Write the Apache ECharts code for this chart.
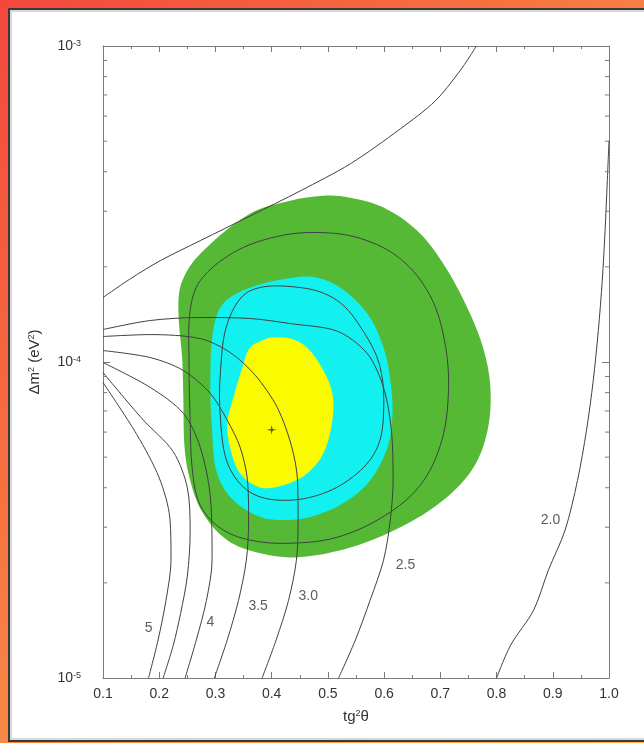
<!DOCTYPE html>
<html><head><meta charset="utf-8">
<script src="https://cdn.jsdelivr.net/npm/echarts@6/dist/echarts.min.js"></script>
<style>
html,body{margin:0;padding:0;width:644px;height:743px;overflow:hidden;
 background:linear-gradient(135deg,#f3473d 0%,#f6703f 35%,#f8974b 65%,#fbb157 100%);}
#panel{position:absolute;left:8px;top:8px;width:640px;height:730px;background:#fff;border:2px solid #3a3a3a;box-shadow:inset 0 0 0 2px #d8d8d8;}
#chart{position:absolute;left:0;top:0;width:644px;height:743px;}
</style></head>
<body><div id="panel"></div><div id="chart"></div>
<script>
// Allowed regions in the (tg²θ, Δm²) plane
const greenRegion = [[0.492,3.36e-4],[0.540,3.31e-4],[0.599,3.08e-4],[0.659,2.60e-4],[0.705,2.05e-4],[0.748,1.486e-4],[0.776,1.111e-4],[0.789,8.31e-5],[0.784,6.08e-5],[0.759,4.64e-5],[0.705,3.65e-5],[0.629,3.00e-5],[0.540,2.59e-5],[0.446,2.41e-5],[0.380,2.48e-5],[0.321,2.73e-5],[0.278,3.32e-5],[0.255,4.22e-5],[0.245,5.37e-5],[0.243,7.56e-5],[0.241,1.011e-4],[0.234,1.486e-4],[0.241,1.809e-4],[0.273,2.20e-4],[0.362,2.95e-4],[0.433,3.24e-4]];
const cyanRegion = [[0.438,1.849e-4],[0.481,1.849e-4],[0.522,1.72e-4],[0.570,1.423e-4],[0.599,1.111e-4],[0.611,8.74e-5],[0.615,6.88e-5],[0.606,5.37e-5],[0.575,4.22e-5],[0.527,3.57e-5],[0.469,3.23e-5],[0.421,3.16e-5],[0.380,3.23e-5],[0.332,3.65e-5],[0.303,4.44e-5],[0.294,6.08e-5],[0.291,8.74e-5],[0.296,1.258e-4],[0.314,1.531e-4],[0.362,1.72e-4]];
const yellowRegion = [[0.403,1.195e-4],[0.433,1.186e-4],[0.463,1.111e-4],[0.492,9.40e-5],[0.508,7.95e-5],[0.508,6.54e-5],[0.492,5.14e-5],[0.463,4.44e-5],[0.421,4.07e-5],[0.380,4.01e-5],[0.344,4.44e-5],[0.326,5.37e-5],[0.321,6.39e-5],[0.332,7.72e-5],[0.348,9.61e-5],[0.362,1.111e-4],[0.392,1.186e-4]];
const bestFit = [[0.40, 6.1e-5]];

// Closed contours drawn over the filled regions
const outerLoop = [[0.255,1.454e-4],[0.273,1.809e-4],[0.332,2.22e-4],[0.407,2.49e-4],[0.481,2.57e-4],[0.558,2.46e-4],[0.629,2.12e-4],[0.682,1.62e-4],[0.709,1.128e-4],[0.714,7.72e-5],[0.700,5.45e-5],[0.664,4.07e-5],[0.602,3.27e-5],[0.517,2.79e-5],[0.433,2.67e-5],[0.362,2.73e-5],[0.309,2.98e-5],[0.273,3.52e-5],[0.259,4.54e-5],[0.255,6.54e-5],[0.253,1.011e-4]];
const innerLoop = [[0.362,1.682e-4],[0.451,1.72e-4],[0.517,1.564e-4],[0.563,1.251e-4],[0.593,9.61e-5],[0.599,6.88e-5],[0.588,5.37e-5],[0.552,4.44e-5],[0.492,3.84e-5],[0.421,3.65e-5],[0.362,3.87e-5],[0.323,4.71e-5],[0.309,6.54e-5],[0.309,9.40e-5],[0.323,1.353e-4]];

// Iso-contours
const curve50 = [[0.100,8.61e-5],[0.160,5.9e-5],[0.200,4.3e-5],[0.219,3.2e-5],[0.221,2.36e-5],[0.212,1.76e-5],[0.198,1.32e-5],[0.181,1.0e-5]];
const curve45 = [[0.100,9.26e-5],[0.170,6.6e-5],[0.225,5.2e-5],[0.250,4.0e-5],[0.255,2.9e-5],[0.250,2.1e-5],[0.238,1.6e-5],[0.225,1.27e-5],[0.207,1.0e-5]];
const curve40 = [[0.100,9.96e-5],[0.184,8.31e-5],[0.243,6.88e-5],[0.273,5.37e-5],[0.291,3.73e-5],[0.294,2.36e-5],[0.284,1.76e-5],[0.266,1.32e-5],[0.246,1.0e-5]];
const curve35 = [[0.100,1.087e-4],[0.184,1.033e-4],[0.243,9.40e-5],[0.291,7.95e-5],[0.321,6.54e-5],[0.344,5.37e-5],[0.357,4.22e-5],[0.359,3.16e-5],[0.355,2.36e-5],[0.341,1.76e-5],[0.321,1.32e-5],[0.298,1.0e-5]];
const curve30 = [[0.100,1.204e-4],[0.184,1.221e-4],[0.273,1.186e-4],[0.326,1.072e-4],[0.371,9.07e-5],[0.410,7.18e-5],[0.435,5.45e-5],[0.446,4.22e-5],[0.447,3.16e-5],[0.444,2.36e-5],[0.430,1.76e-5],[0.408,1.32e-5],[0.383,1.0e-5]];
const curve25 = [[0.100,1.267e-4],[0.184,1.353e-4],[0.273,1.383e-4],[0.362,1.373e-4],[0.433,1.323e-4],[0.517,1.251e-4],[0.570,1.064e-4],[0.599,8.31e-5],[0.613,6.08e-5],[0.616,4.22e-5],[0.611,3.16e-5],[0.599,2.36e-5],[0.575,1.76e-5],[0.549,1.32e-5],[0.519,1.0e-5]];
const curve20 = [[0.800,1.0e-5],[0.825,1.27e-5],[0.866,1.64e-5],[0.892,2.19e-5],[0.922,2.94e-5],[0.944,4.22e-5],[0.960,6.08e-5],[0.972,8.74e-5],[0.981,1.258e-4],[0.988,1.809e-4],[0.993,2.60e-4],[0.997,3.75e-4],[1.000,5.01e-4]];
const curveUpper = [[0.100,1.60e-4],[0.149,1.835e-4],[0.202,2.093e-4],[0.273,2.421e-4],[0.362,2.90e-4],[0.451,3.48e-4],[0.540,4.24e-4],[0.629,5.47e-4],[0.691,6.70e-4],[0.732,8.21e-4],[0.753,9.30e-4],[0.764,1.0e-3]];

const curveLabelText = ['5', '4', '3.5', '3.0', '2.5', '2.0'];
const curveLabelPos = [[0.181,1.44e-5],[0.291,1.50e-5],[0.376,1.69e-5],[0.465,1.82e-5],[0.638,2.28e-5],[0.896,3.16e-5]];

// Axis ticks
const xTickValues = [0.1,0.2,0.3,0.4,0.5,0.6,0.7,0.8,0.9,1.0];
const yDecadeExponents = [-5, -4, -3];
const yMinorTickValues = [2e-5,3e-5,4e-5,5e-5,6e-5,7e-5,8e-5,9e-5,2e-4,3e-4,4e-4,5e-4,6e-4,7e-4,8e-4,9e-4];

const FONT = '"Liberation Sans", Arial, sans-serif';
const TXT = '#333';
const AXIS = '#7a7a7a';
const LINE = '#404040';
const supStyle = { fontSize: 9, fontFamily: FONT, color: TXT, verticalAlign: 'top', lineHeight: 9 };

function regionSeries(points, color) {
  return {
    type: 'custom', coordinateSystem: 'cartesian2d', data: points, silent: true, z: 1,
    renderItem: function (params, api) {
      if (params.dataIndex !== 0) return null;
      const pts = points.map(p => api.coord(p));
      return { type: 'polygon', shape: { points: pts, smooth: 0.35 }, style: { fill: color, stroke: null } };
    }
  };
}
function loopSeries(points) {
  return {
    type: 'custom', coordinateSystem: 'cartesian2d', data: points, silent: true, z: 3,
    renderItem: function (params, api) {
      if (params.dataIndex !== 0) return null;
      const pts = points.map(p => api.coord(p));
      return { type: 'polygon', shape: { points: pts, smooth: 0.35 }, style: { fill: null, stroke: LINE, lineWidth: 1 } };
    }
  };
}
function curveSeries(points) {
  return {
    type: 'line', data: points, smooth: 0.3, showSymbol: false, silent: true, z: 3,
    lineStyle: { color: LINE, width: 1 }
  };
}

const minorTickData = [];
yMinorTickValues.forEach(v => { minorTickData.push([0.1, v, 1]); minorTickData.push([1.0, v, -1]); });

const chart = echarts.init(document.getElementById('chart'));
chart.setOption({
  animation: false,
  backgroundColor: 'transparent',
  grid: { left: 103, right: 35, top: 46, bottom: 65, containLabel: false },
  xAxis: [{
    type: 'value', min: 0.1, max: 1.0, interval: 0.1,
    name: 'tg{sup|2}θ', nameLocation: 'middle', nameGap: 31,
    nameTextStyle: { fontFamily: FONT, fontSize: 15, color: TXT, rich: { sup: supStyle } },
    axisLine: { lineStyle: { color: AXIS, width: 1 } },
    axisTick: { inside: true, length: 6, lineStyle: { color: AXIS } },
    minorTick: { show: true, splitNumber: 2, length: 3, lineStyle: { color: AXIS } },
    splitLine: { show: false },
    axisLabel: { margin: 9, fontFamily: FONT, fontSize: 14, color: TXT,
      formatter: v => xTickValues.some(t => Math.abs(t - v) < 1e-9) ? v.toFixed(1) : '' }
  }, {
    type: 'value', min: 0.1, max: 1.0, interval: 0.1, position: 'top',
    axisLine: { lineStyle: { color: AXIS, width: 1 } },
    axisTick: { inside: true, length: 6, lineStyle: { color: AXIS } },
    minorTick: { show: true, splitNumber: 2, length: 3, lineStyle: { color: AXIS } },
    splitLine: { show: false }, axisLabel: { show: false }
  }],
  yAxis: [{
    type: 'log', logBase: 10, min: 1e-5, max: 1e-3,
    name: 'Δm{sup|2} (eV{sup|2})', nameLocation: 'middle', nameGap: 61, nameRotate: 90,
    nameTextStyle: { fontFamily: FONT, fontSize: 15, color: TXT, rich: { sup: supStyle } },
    axisLine: { lineStyle: { color: AXIS, width: 1 } },
    axisTick: { inside: true, length: 7, lineStyle: { color: AXIS } },
    splitLine: { show: false },
    axisLabel: { margin: 22, fontFamily: FONT, fontSize: 14, color: TXT,
      formatter: v => { const e = Math.round(Math.log10(v)); return yDecadeExponents.includes(e) ? '10{sup|' + e + '}' : ''; },
      rich: { sup: supStyle } }
  }, {
    type: 'log', logBase: 10, min: 1e-5, max: 1e-3, position: 'right',
    axisLine: { lineStyle: { color: AXIS, width: 1 } },
    axisTick: { inside: true, length: 7, lineStyle: { color: AXIS } },
    splitLine: { show: false }, axisLabel: { show: false }
  }],
  series: [
    regionSeries(greenRegion, '#55b935'),
    regionSeries(cyanRegion, '#12f0f0'),
    regionSeries(yellowRegion, '#fbfb00'),
    loopSeries(outerLoop), loopSeries(innerLoop),
    curveSeries(curve50), curveSeries(curve45), curveSeries(curve40), curveSeries(curve35),
    curveSeries(curve30), curveSeries(curve25), curveSeries(curve20), curveSeries(curveUpper),
    {
      type: 'custom', data: minorTickData, silent: true, z: 4,
      renderItem: function (params, api) {
        const p = api.coord([api.value(0), api.value(1)]);
        const dir = api.value(2);
        return { type: 'line', shape: { x1: p[0], y1: p[1], x2: p[0] + dir * 4, y2: p[1] }, style: { stroke: AXIS, lineWidth: 1 } };
      }
    },
    {
      type: 'scatter', data: bestFit, symbol: 'path://M0,-6 L1,-1 L6,0 L1,1 L0,6 L-1,1 L-6,0 L-1,-1Z',
      symbolSize: 10, itemStyle: { color: '#333' }, z: 5, silent: true
    },
    {
      type: 'scatter', silent: true, z: 5, symbolSize: 0,
      data: curveLabelPos.map((p, i) => ({ value: p, name: curveLabelText[i] })),
      label: { show: true, position: 'inside', formatter: p => p.name, fontFamily: FONT, fontSize: 14, color: TXT }
    }
  ]
});
</script></body></html>
